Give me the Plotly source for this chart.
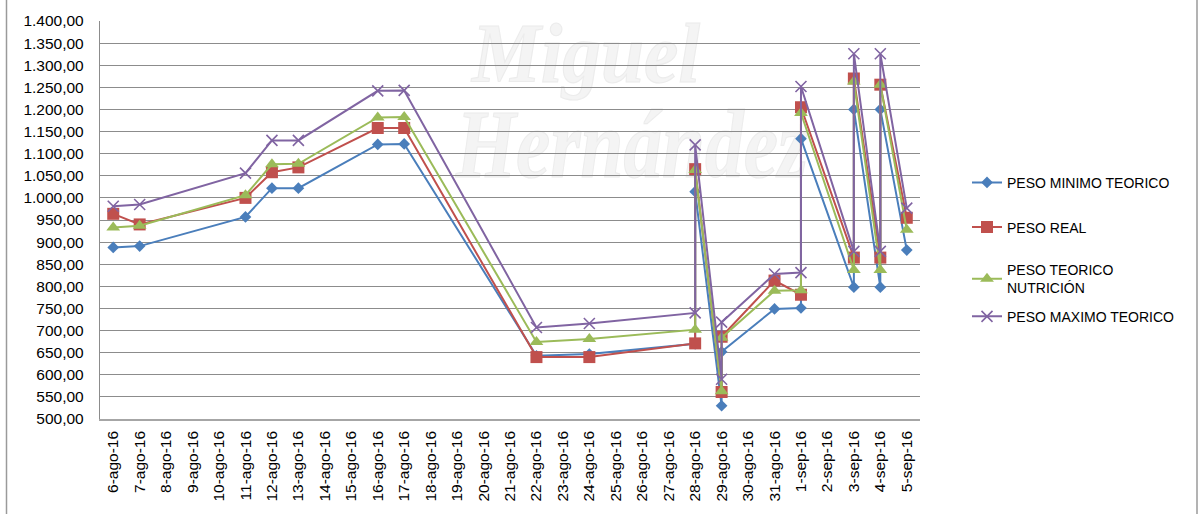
import base64
import plotly.graph_objects as go

# Fechas de cada pesaje (algunas fechas tienen dos registros)
fechas = [
    "6-ago-16", "7-ago-16", "11-ago-16", "12-ago-16", "13-ago-16",
    "16-ago-16", "17-ago-16", "22-ago-16", "24-ago-16",
    "28-ago-16", "28-ago-16", "29-ago-16", "29-ago-16",
    "31-ago-16", "1-sep-16", "1-sep-16", "3-sep-16", "3-sep-16",
    "4-sep-16", "4-sep-16", "5-sep-16",
]

peso_minimo = [888, 891, 957, 1022, 1022, 1121, 1122, 643, 647,
               670, 1014, 530, 652, 749, 751, 1134, 798, 1200,
               798, 1200, 882]
peso_real = [964, 940, 1000, 1058, 1069, 1158, 1158, 640, 640,
             671, 1065, 561, 686, 813, 781, 1205, 865, 1270,
             865, 1256, 955]
peso_nutricion = [933, 937, 1006, 1076, 1077, 1182, 1183, 674, 681,
                  702, 1063, 563, 684, 790, 791, 1192, 837, 1263,
                  837, 1256, 928]
peso_maximo = [981, 985, 1056, 1130, 1130, 1242, 1243, 707, 716,
               740, 1120, 590, 719, 828, 831, 1252, 879, 1326,
               879, 1326, 977]

# Eje de fechas diario
dias = [
    "6-ago-16", "7-ago-16", "8-ago-16", "9-ago-16", "10-ago-16",
    "11-ago-16", "12-ago-16", "13-ago-16", "14-ago-16", "15-ago-16",
    "16-ago-16", "17-ago-16", "18-ago-16", "19-ago-16", "20-ago-16",
    "21-ago-16", "22-ago-16", "23-ago-16", "24-ago-16", "25-ago-16",
    "26-ago-16", "27-ago-16", "28-ago-16", "29-ago-16", "30-ago-16",
    "31-ago-16", "1-sep-16", "2-sep-16", "3-sep-16", "4-sep-16",
    "5-sep-16",
]

series = [
    ("PESO MINIMO TEORICO", peso_minimo, "#4A7EBB",
     dict(symbol="diamond", size=9)),
    ("PESO REAL", peso_real, "#C0504D",
     dict(symbol="square", size=12)),
    ("PESO TEORICO<br>NUTRICIÓN", peso_nutricion, "#9BBB59",
     dict(symbol="triangle-up", size=12)),
    ("PESO MAXIMO TEORICO", peso_maximo, "#8064A2",
     dict(symbol="x-thin", size=11)),
]

# Cada serie tiene su propia leyenda para fijar su posición vertical
legend_ids = ["legend", "legend2", "legend3", "legend4"]
legend_centers_px = [182, 227, 279, 317]

fig = go.Figure()
for (nombre, valores, color, mk), lid in zip(series, legend_ids):
    marker = dict(color=color, **mk)
    if mk["symbol"] == "x-thin":
        marker["line"] = dict(color=color, width=1.6)
    fig.add_trace(go.Scatter(
        x=fechas, y=valores, name=nombre, mode="lines+markers",
        line=dict(color=color, width=2), marker=marker,
        legend=lid,
    ))

legend_layout = {}
for lid, yc in zip(legend_ids, legend_centers_px):
    legend_layout[lid] = dict(
        x=867 / 820, xanchor="left", y=(420 - yc) / 401, yanchor="middle",
        font=dict(size=14, color="#000000"), bgcolor="rgba(0,0,0,0)",
    )

# Marca de agua de fondo
svg = (
    '<svg xmlns="http://www.w3.org/2000/svg" width="700" height="210" '
    'viewBox="0 0 700 210">'
    '<g font-family="Liberation Serif, DejaVu Serif, serif" '
    'font-style="italic" font-weight="bold" fill="#f4f4f4" '
    'stroke="#ececec" stroke-width="1.2">'
    '<text x="322" y="80" font-size="86" textLength="228" '
    'lengthAdjust="spacingAndGlyphs">Miguel</text>'
    '<text x="306" y="176" font-size="98" textLength="352" '
    'lengthAdjust="spacingAndGlyphs">Hernández</text>'
    '</g></svg>'
)
fig.add_layout_image(dict(
    source="data:image/svg+xml;base64," + base64.b64encode(svg.encode("utf-8")).decode(),
    xref="paper", yref="paper", x=50 / 820, y=420 / 401,
    sizex=700 / 820, sizey=210 / 401, sizing="stretch",
    xanchor="left", yanchor="top", layer="below",
))

# Marco exterior del gráfico
for xp in (-93.5 / 820, 1097 / 820):
    fig.add_shape(type="line", xref="paper", yref="paper",
                  x0=xp, x1=xp, y0=-1, y1=2,
                  line=dict(color="#9a9a9a", width=1.5))

fig.update_layout(
    width=1201, height=514,
    margin=dict(l=100, r=281, t=19, b=94),
    paper_bgcolor="white", plot_bgcolor="rgba(0,0,0,0)",
    font=dict(family="Liberation Sans, Arial, sans-serif", color="#000000", size=15.5),
    separators=",.",
    showlegend=True,
    xaxis=dict(
        type="category", categoryorder="array", categoryarray=dias,
        tickmode="array", tickvals=dias, ticktext=dias,
        range=[-0.5, len(dias) - 0.5], tickangle=-90,
        showgrid=False, showline=True, linecolor="#a6a6a6", linewidth=1.5,
        ticks="", zeroline=False, ticklabelstandoff=4,
    ),
    yaxis=dict(
        range=[500, 1400], dtick=50, tick0=500, tickformat=",.2f",
        showgrid=True, gridcolor="#8c8c8c", gridwidth=1.3,
        showline=True, linecolor="#8c8c8c", linewidth=1.3,
        ticks="", zeroline=False, ticklabelstandoff=12,
    ),
    **legend_layout,
)

fig.write_html("out.html")
